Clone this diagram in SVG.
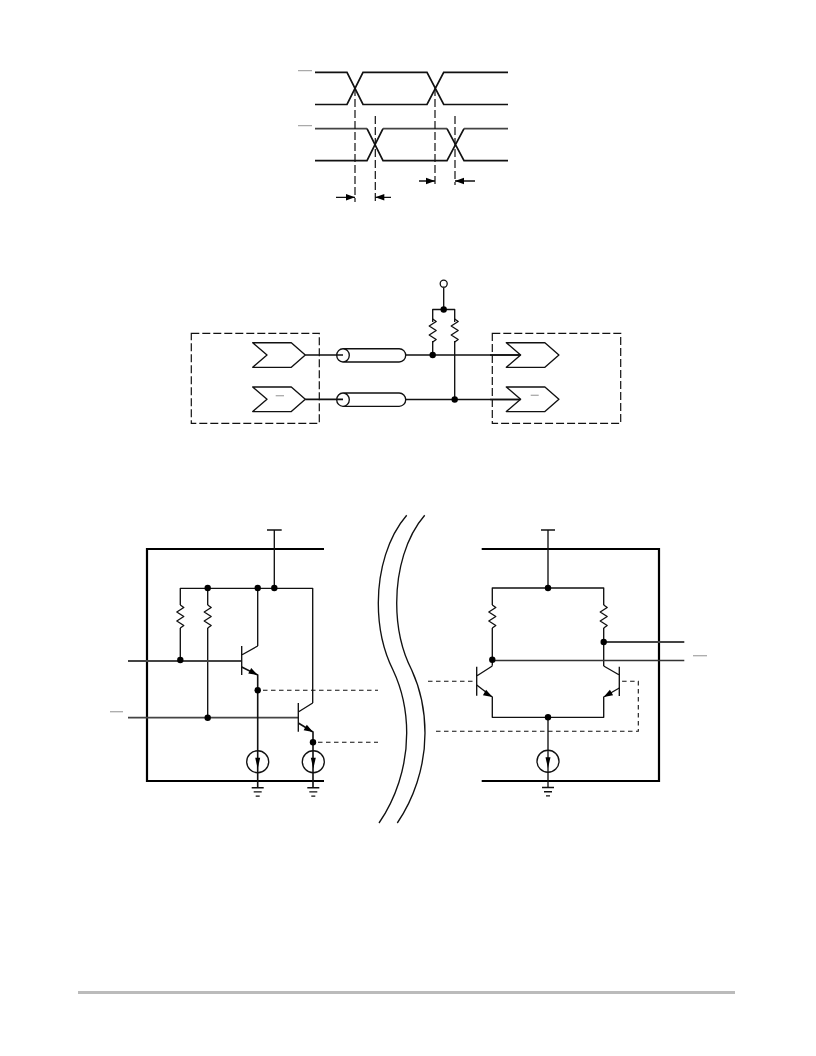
<svg xmlns="http://www.w3.org/2000/svg" width="816" height="1056" viewBox="0 0 816 1056">
<style>
.w{fill:none;stroke:#111;stroke-width:1.35;stroke-linejoin:round}
.s{fill:none;stroke:#111;stroke-width:1.7}
.g{fill:none;stroke:#444;stroke-width:1.8}
.t{fill:none;stroke:#000;stroke-width:2.2}
.b{fill:none;stroke:#aaa;stroke-width:1.3}
.d{fill:none;stroke:#111;stroke-width:1.2;stroke-dasharray:8 3}
.e{fill:none;stroke:#111;stroke-width:1.1;stroke-dasharray:4.500 3.500}
.f{fill:#000}
.c{fill:#fff;stroke:#111;stroke-width:1.3}
</style>
<defs>
<path id="res" class="w" d="M0 0l3.500 2.500l-7 4.500l7 4.500l-7 4.500l7 4.500l-3.500 2.500"/>
<path id="gnd" class="w" d="M-6 0h12M-4 4.200h8M-2 8.400h4"/>
<path id="ar" class="f" d="M0 0l-9-3.200v6.400z"/>
<g id="src"><circle class="w" r="11"/><path class="f" d="M-2.500 -4h5l-2.500 11z"/></g>
<path id="chev" class="w" style="fill:#fff" d="M0 0h38.600l14 12.300l-14 12.300H0l14.300-12.300z"/>
</defs>

<g id="timing">
<path class="s" d="M315 72.300h32l16 32.200h64l16.700-32.200h64.300M315 104.500h32l16-32.200h64l16.700 32.200h64.300"/>
<path class="s" d="M315 160.700h52l16-32M367 128.700l16 32h64l17-32M447 160.700l17-32M447 128.700l17 32h44"/>
<path class="g" d="M315 128.700h52M383 128.700h64M464 128.700h44"/>
<path class="b" d="M298 70.700h14M298 125.700h14"/>
<path class="d" d="M355 88v114M375.300 116v85M435 88v97M455 116v69"/>
<path class="w" d="M419 181h16M475 181h-20M336 197.300h19M391 197.300h-16"/>
<use href="#ar" x="435" y="181"/>
<use href="#ar" transform="translate(455 181) rotate(180)"/>
<use href="#ar" x="355" y="197.300"/>
<use href="#ar" transform="translate(375.300 197.300) rotate(180)"/>
</g>

<g id="connectors-mid">
<path class="s" d="M405.700 355H520.700M405.700 399.500H520.700"/>
<path class="w" d="M443.700 287.200V309.500M432.700 322V309.500H454.700V322M432.700 341V355M454.700 341V399.500"/>
<use href="#res" x="432.700" y="319"/>
<use href="#res" x="454.700" y="319"/>
<circle class="f" cx="443.700" cy="309.500" r="3.200"/>
<circle class="f" cx="432.700" cy="355" r="3.200"/>
<circle class="f" cx="454.700" cy="399.500" r="3.200"/>
<circle class="c" cx="443.700" cy="283.700" r="3.500"/>
</g>
<g id="source-box"><rect class="d" x="191.300" y="333.300" width="128" height="90"/>
<use href="#chev" x="252.700" y="342.700"/><use href="#chev" x="252.700" y="387"/>
<path class="b" d="M275.700 395.700h8.300"/>
<path class="s" d="M305.300 355H343M305.300 399.300H343"/></g>
<g id="cable-1"><path class="w" d="M343 348.700H399.200a6.500 6.650 0 0 1 0 13.300H343a6.300 6.650 0 1 1 0-13.300a6.300 6.650 0 0 1 0 13.300"/></g>
<g id="cable-2"><path class="w" d="M343 393H399.200a6.500 6.650 0 0 1 0 13.300H343a6.300 6.650 0 1 1 0-13.300a6.300 6.650 0 0 1 0 13.300"/></g>
<g id="receiver-box"><rect class="d" x="492.300" y="333.300" width="128.400" height="90"/>
<use href="#chev" x="506.300" y="342.700"/><use href="#chev" x="506.300" y="387"/>
<path class="b" d="M530.700 395.300h8"/>
<path class="s" d="M490 355H520.700M490 399.500H520.700"/></g>

<g id="driver">
<path class="t" d="M324 549H147V781H324"/>
<path class="w" d="M267 530h14.700M274.300 530V588.300M312.700 703V588.300H180.300V605M180.300 628V660M207.700 588.300V605M207.700 628V717.700M257.700 646V588.300"/>
<use href="#res" x="180.300" y="605"/>
<use href="#res" x="207.700" y="605"/>
<path class="g" d="M128 661H241.700M128 717.700H298.300"/>
<path class="b" d="M110 711.700h13"/>
<path class="w" d="M241.700 646V675M241.700 655L257.700 646M298.300 703V731.700M298.300 712L312.700 703"/>
<path class="w" style="stroke-width:1.6" d="M241.700 667L257.700 675V787.700M298.300 723L313 732V787.700"/>
<use href="#ar" transform="translate(257.700 675) rotate(28)"/>
<use href="#ar" transform="translate(313 732) rotate(30)"/>
<path class="e" d="M263 690.300H378M318 742.300H378"/>
<use href="#src" x="257.700" y="761.700"/><use href="#src" x="313.300" y="761.700"/>
<use href="#gnd" x="257.700" y="787.700"/><use href="#gnd" x="313.300" y="787.700"/>
<circle class="f" cx="207.700" cy="588" r="3.200"/><circle class="f" cx="257.700" cy="588" r="3.200"/><circle class="f" cx="274.300" cy="588" r="3.200"/>
<circle class="f" cx="180.300" cy="660" r="3.200"/><circle class="f" cx="207.700" cy="717.700" r="3.200"/>
<circle class="f" cx="257.700" cy="690.300" r="3.200"/><circle class="f" cx="313" cy="742.300" r="3.200"/>
</g>

<g id="break">
<path class="w" d="M406.700 515.300C388 537 378.300 570 378.300 603C378.300 632 385 654 393 670C401 687 406.700 708 406.700 733C406.700 768 395 800 379 823"/>
<path class="w" d="M424.700 515.300C406 537 396.700 570 396.700 603C396.700 632 403.500 654 411.700 670C419.500 687 425 708 425 733C425 768 413 800 397.300 823"/>
</g>

<g id="receiver">
<path class="t" d="M481.700 549H659V781H481.700"/>
<path class="w" d="M541 530h14M548 530V588M492.300 605V588H603.700V605M492.300 628V665.700M603.700 628V666"/>
<use href="#res" x="492.300" y="605"/>
<use href="#res" x="603.700" y="605"/>
<path class="g" d="M603.700 642H684.300"/>
<path class="w" style="stroke:#333" d="M492.300 660.500H684.300"/>
<path class="b" d="M693 655.700h14"/>
<path class="w" d="M476.700 666.700V695.700M476.700 676L492.300 666M619.300 666.700V696M603.700 666L619.300 675"/>
<path class="w" d="M476.700 685L492.300 697V717.300H603.700V697L619.300 688M548 717.300V787.500"/>
<use href="#ar" transform="translate(492.300 697) rotate(30)"/>
<use href="#ar" transform="translate(603.700 697) rotate(150)"/>
<path class="e" d="M428 681.300H476.700M436 731.300H638.300V681.300H619.300"/>
<use href="#src" x="548" y="761.300"/>
<use href="#gnd" x="548" y="787.500"/>
<circle class="f" cx="548" cy="588" r="3.200"/><circle class="f" cx="492.300" cy="659.700" r="3.200"/><circle class="f" cx="603.700" cy="642" r="3.200"/><circle class="f" cx="548" cy="717.300" r="3.200"/>
</g>

<rect id="footer-rule" x="78" y="991" width="657" height="3" fill="#bbb"/>
</svg>
